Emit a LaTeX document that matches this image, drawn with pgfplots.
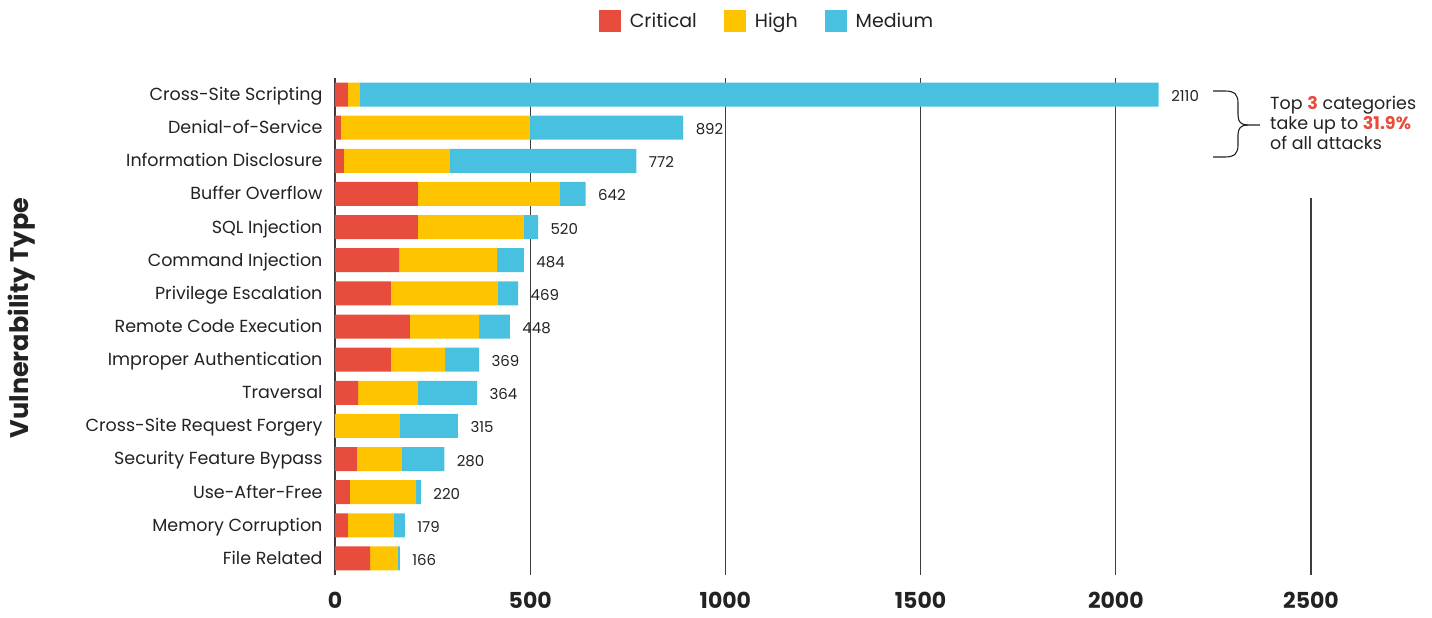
\documentclass[border=0pt]{standalone}
\usepackage{fontspec}
\setmainfont{Poppins}
\usepackage{pgfplots}
\pgfplotsset{compat=1.18}
\usepackage{pgfplotstable}

\definecolor{crit}{RGB}{231,76,60}
\definecolor{high}{RGB}{255,196,0}
\definecolor{med}{RGB}{72,193,224}
\definecolor{ink}{RGB}{34,34,34}
\definecolor{gridc}{RGB}{60,60,60}

% idx, critical, high, medium (segments), total
\pgfplotstableread{
idx crit high med total zero
0   33   31   2046 2110 0
1   15   484  393  892  0
2   23   271  478  772  0
3   212  364  66   642  0
4   212  272  36   520  0
5   164  251  69   484  0
6   143  274  52   469  0
7   192  177  79   448  0
8   143  139  87   369  0
9   59   153  152  364  0
10  0    166  149  315  0
11  56   115  109  280  0
12  38   169  13   220  0
13  33   118  28   179  0
14  90   71   5    166  0
}\vulndata

\begin{document}
\begin{tikzpicture}
\path[use as bounding box] (-335pt,-43pt) rectangle (1097pt,575pt);
\begin{axis}[
    at={(0pt,0pt)}, anchor=south west,
    scale only axis,
    width=976pt, height=497pt,
    xbar stacked,
    stacked ignores zero=false,
    bar width=24pt,
    xmin=0, xmax=2500,
    ymin=-0.5, ymax=14.5,
    y dir=reverse,
    axis line style={draw=none},
    clip=false,
    xtick={0,500,1000,1500,2000,2500},
    ytick={0,...,14},
    yticklabels={Cross-Site Scripting,Denial-of-Service,Information Disclosure,Buffer Overflow,SQL Injection,Command Injection,Privilege Escalation,Remote Code Execution,Improper Authentication,Traversal,Cross-Site Request Forgery,Security Feature Bypass,Use-After-Free,Memory Corruption,File Related},
    major tick length=0pt,
    xmajorgrids,
    grid style={gridc, line width=1.2pt},
    /pgf/number format/assume math mode=true,
    /pgf/number format/1000 sep={},
    xticklabel style={font=\fontsize{22}{25}\selectfont\bfseries, text=ink, yshift=-14pt},
    yticklabel style={font=\fontsize{17.5}{20}\selectfont, text=ink, xshift=-9pt, yshift=-2pt, text height=0.9em, text depth=0.12em},
    ylabel={Vulnerability Type},
    ylabel style={at={(axis description cs:-0.3207,0.517)}, anchor=center, font=\fontsize{25.5}{28}\selectfont\bfseries, text=ink},
    legend columns=-1,
    legend style={at={(axis description cs:0.4426,1.1147)}, anchor=center, draw=none, fill=none,
        font=\fontsize{19}{22}\selectfont, text=ink,
        /tikz/every even column/.append style={column sep=25pt}},
    legend image code/.code={\fill[#1] (0pt,-11pt) rectangle (22pt,11pt); \path (29pt,0pt);},
    every node near coord/.append style={font=\fontsize{15}{18}\selectfont, text=ink, anchor=west, xshift=9pt, yshift=-3pt, text height=0.9em, text depth=0.1em},
]
\addplot[fill=crit, draw=none] table[x=crit, y=idx] {\vulndata};
\addplot[fill=high, draw=none] table[x=high, y=idx] {\vulndata};
\addplot[fill=med, draw=none] table[x=med, y=idx] {\vulndata};
\addplot[draw=none, fill=none, forget plot, nodes near coords, point meta=explicit] table[x=zero, y=idx, meta=total] {\vulndata};
\legend{Critical, High, Medium}
\end{axis}
% hide the top of the 2500 grid line behind the annotation
\fill[white] (973pt,377pt) rectangle (979pt,499pt);
% brace and note
\draw[ink, line width=1.1pt]
  (878pt,484pt) -- (890pt,484pt) .. controls (900pt,484pt) and (903pt,480pt) .. (903pt,472pt)
  -- (903pt,460pt) .. controls (903pt,453pt) and (906pt,450pt) .. (913pt,450pt) -- (925pt,450pt);
\draw[ink, line width=1.1pt]
  (878pt,418pt) -- (890pt,418pt) .. controls (900pt,418pt) and (903pt,422pt) .. (903pt,430pt)
  -- (903pt,440pt) .. controls (903pt,447pt) and (906pt,450pt) .. (913pt,450pt);
\node[anchor=north west, align=left, inner sep=0pt, text=ink, font=\fontsize{17.5}{20}\selectfont]
  at (935pt,479pt) {Top {\color{crit}\bfseries 3} categories\\take up to {\color{crit}\bfseries 31.9\%}\\of all attacks};
\end{tikzpicture}
\end{document}
